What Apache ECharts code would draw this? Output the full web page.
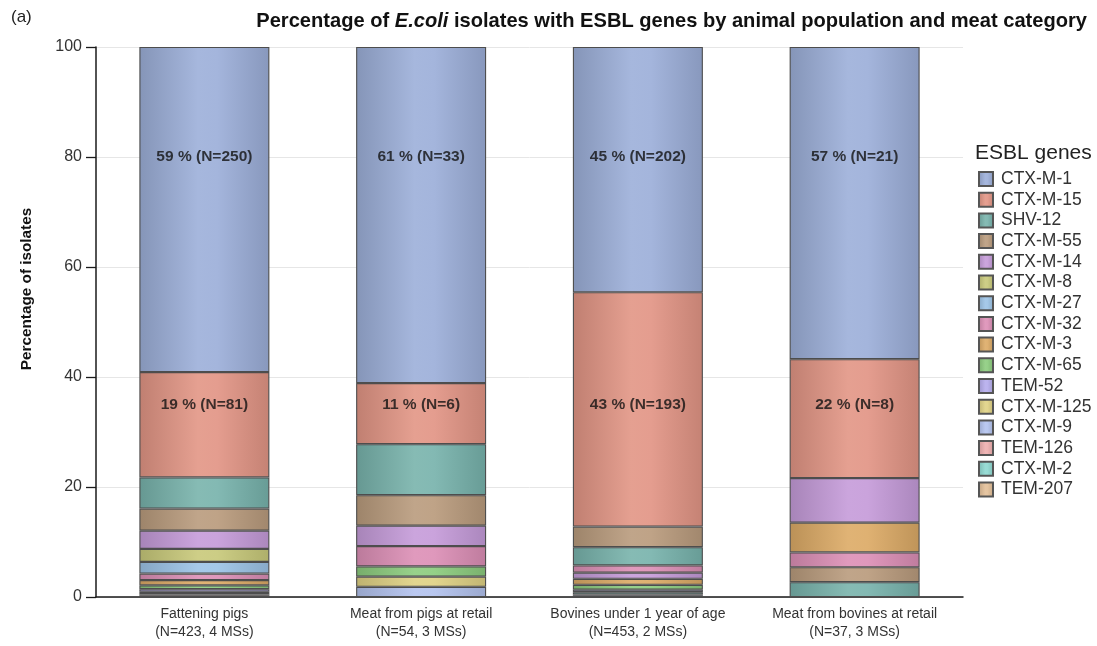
<!DOCTYPE html>
<html>
<head>
<meta charset="utf-8">
<title>ESBL genes in E. coli isolates</title>
<script src="https://cdn.jsdelivr.net/npm/echarts@6/dist/echarts.min.js"></script>
<style>
  html, body { margin: 0; padding: 0; background: #ffffff; }
  #chart { width: 1097px; height: 646px; }
</style>
</head>
<body>
<div id="chart"></div>
<script>
// ESBL genes, in legend order, with their fill colours
const genes = ['CTX-M-1', 'CTX-M-15', 'SHV-12', 'CTX-M-55', 'CTX-M-14', 'CTX-M-8', 'CTX-M-27', 'CTX-M-32',
  'CTX-M-3', 'CTX-M-65', 'TEM-52', 'CTX-M-125', 'CTX-M-9', 'TEM-126', 'CTX-M-2', 'TEM-207'];
const geneColors = ['#9cafd9', '#e29585', '#78b3ac', '#b99b7d', '#c59bd9', '#c8c97a', '#9cc3e6', '#dc8fb6',
  '#dcaa66', '#8ccc7e', '#b5acec', '#dfd184', '#b2c2ee', '#eeaeae', '#8ed8d0', '#e2bf98'];

// Categories on the x axis
const categoryNames = ['Fattening pigs', 'Meat from pigs at retail', 'Bovines under 1 year of age', 'Meat from bovines at retail'];
const categoryNotes = ['(N=423, 4 MSs)', '(N=54, 3 MSs)', '(N=453, 2 MSs)', '(N=37, 3 MSs)'];
const isolateTotals = [423, 54, 453, 37];

// Isolate counts per gene, listed from the top of each column downwards
const fatteningPigs = [['CTX-M-1', 250], ['CTX-M-15', 81], ['SHV-12', 24], ['CTX-M-55', 17], ['CTX-M-14', 14],
  ['CTX-M-8', 10], ['CTX-M-27', 9], ['CTX-M-32', 5], ['CTX-M-3', 4], ['CTX-M-65', 3], ['TEM-52', 2],
  ['CTX-M-125', 1], ['CTX-M-9', 1], ['TEM-126', 1], ['CTX-M-2', 1]];
const pigMeatRetail = [['CTX-M-1', 33], ['CTX-M-15', 6], ['SHV-12', 5], ['CTX-M-55', 3], ['CTX-M-14', 2],
  ['CTX-M-32', 2], ['CTX-M-65', 1], ['CTX-M-125', 1], ['CTX-M-9', 1]];
const bovinesUnder1 = [['CTX-M-1', 202], ['CTX-M-15', 193], ['CTX-M-55', 17], ['SHV-12', 15], ['CTX-M-32', 6],
  ['CTX-M-14', 5], ['CTX-M-3', 5], ['CTX-M-65', 4], ['TEM-52', 2], ['CTX-M-2', 2], ['CTX-M-9', 1], ['TEM-207', 1]];
const bovineMeatRetail = [['CTX-M-1', 21], ['CTX-M-15', 8], ['CTX-M-14', 3], ['CTX-M-3', 2], ['CTX-M-32', 1],
  ['CTX-M-55', 1], ['SHV-12', 1]];

// Genes whose share is written on the columns, and the height of each written line
const labelledGenes = ['CTX-M-1', 'CTX-M-15'];
const labelLevels = [80, 35];

const yTicks = [0, 20, 40, 60, 80, 100];

const columns = [fatteningPigs, pigMeatRetail, bovinesUnder1, bovineMeatRetail];
const FONT = 'Liberation Sans, Arial, sans-serif';

function shade(hex, f) {
  const n = parseInt(hex.slice(1), 16);
  let r = (n >> 16) & 255, g = (n >> 8) & 255, b = n & 255;
  const adj = c => Math.max(0, Math.min(255, Math.round(f < 0 ? c * (1 + f) : c + (255 - c) * f)));
  r = adj(r); g = adj(g); b = adj(b);
  return '#' + ((1 << 24) | (r << 16) | (g << 8) | b).toString(16).slice(1);
}
function cylinderFill(hex) {
  return new echarts.graphic.LinearGradient(0, 0, 1, 0, [
    { offset: 0, color: shade(hex, -0.15) },
    { offset: 0.45, color: shade(hex, 0.1) },
    { offset: 0.6, color: shade(hex, 0.08) },
    { offset: 1, color: shade(hex, -0.13) }
  ]);
}
const colorOf = g => geneColors[genes.indexOf(g)];
const pct = (count, c) => count / isolateTotals[c] * 100;

// One stacked series per layer position (layer 0 sits on the axis)
const maxLayers = Math.max(...columns.map(col => col.length));
const series = [];
for (let layer = 0; layer < maxLayers; layer++) {
  series.push({
    type: 'bar',
    stack: 'total',
    barWidth: 130,
    silent: true,
    data: columns.map((col, c) => {
      const seg = col[col.length - 1 - layer];
      if (!seg) return '-';
      return {
        value: pct(seg[1], c),
        name: seg[0],
        itemStyle: { color: cylinderFill(colorOf(seg[0])) }
      };
    }),
    itemStyle: { borderColor: '#4d4d4d', borderWidth: 1.1 }
  });
}

// Legend entries, one per gene
genes.forEach((g, i) => {
  series.push({
    type: 'bar',
    name: g,
    stack: 'total',
    barWidth: 130,
    data: [],
    itemStyle: { color: cylinderFill(geneColors[i]), borderColor: '#555', borderWidth: 1.2 }
  });
});

// Share labels written across the columns
labelledGenes.forEach((g, k) => {
  series.push({
    type: 'scatter',
    symbolSize: 0,
    silent: true,
    z: 10,
    data: columns.map((col, c) => {
      const seg = col.find(s => s[0] === g);
      return { value: [c, labelLevels[k]], count: seg[1], share: pct(seg[1], c) };
    }),
    label: {
      show: true,
      position: 'inside',
      color: '#111',
      fontFamily: FONT,
      fontWeight: 'bold',
      fontSize: 15.5,
      formatter: p => Math.round(p.data.share) + ' % (N=' + p.data.count + ')'
    }
  });
});

const chart = echarts.init(document.getElementById('chart'), null, { renderer: 'canvas' });
chart.setOption({
  animation: false,
  backgroundColor: '#ffffff',
  textStyle: { fontFamily: FONT },
  title: {
    text: '{b|Percentage of }{bi|E.coli}{b| isolates with ESBL genes by animal population and meat category}',
    right: 5,
    top: 6,
    textStyle: {
      rich: {
        b: { fontSize: 20.1, fontWeight: 'bold', color: '#111', fontFamily: FONT },
        bi: { fontSize: 20.1, fontWeight: 'bold', fontStyle: 'italic', color: '#111', fontFamily: FONT }
      }
    }
  },
  graphic: [
    { type: 'text', left: 11, top: 9, style: { text: '(a)', fontSize: 17, fill: '#222', fontFamily: FONT } },
    { type: 'text', left: 975, top: 143, style: { text: 'ESBL genes', fontSize: 21, fill: '#222', fontFamily: FONT } },
    {
      type: 'text', x: 27, y: 289, rotation: Math.PI / 2,
      style: { text: 'Percentage of isolates', fontSize: 15.3, fontWeight: 'bold', fill: '#111', align: 'center', verticalAlign: 'middle', fontFamily: FONT }
    }
  ],
  legend: {
    orient: 'vertical',
    left: 973,
    top: 165,
    icon: 'rect',
    itemWidth: 14,
    itemHeight: 14,
    itemGap: 2.7,
    data: genes,
    selectedMode: false,
    textStyle: { fontSize: 17.5, color: '#333', padding: [0, 0, 0, 3] }
  },
  grid: { left: 96, right: 134, top: 47, bottom: 49, containLabel: false },
  xAxis: {
    type: 'category',
    data: categoryNames.map((n, i) => n + '\n' + categoryNotes[i]),
    axisLine: { lineStyle: { color: '#1a1a1a', width: 1.5 } },
    axisTick: { show: false },
    axisLabel: { fontSize: 14, color: '#333', lineHeight: 18, margin: 8, interval: 0 }
  },
  yAxis: {
    type: 'value',
    min: yTicks[0],
    max: yTicks[yTicks.length - 1],
    interval: 20,
    axisLine: { show: true, lineStyle: { color: '#1a1a1a', width: 1.5 } },
    axisTick: { show: true, length: 10, lineStyle: { color: '#1a1a1a', width: 1.3 } },
    axisLabel: { fontSize: 16, color: '#333', margin: 14 },
    splitLine: { lineStyle: { color: '#e6e6e6', width: 1 } }
  },
  series: series
});
</script>
</body>
</html>
